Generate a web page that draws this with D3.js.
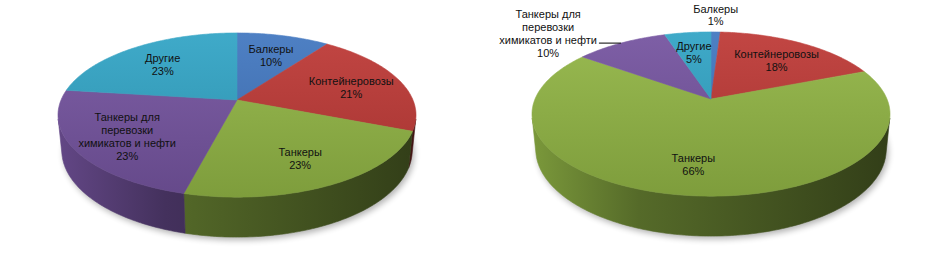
<!DOCTYPE html>
<html>
<head>
<meta charset="utf-8">
<script src="https://cdn.jsdelivr.net/npm/d3@7.9.0/dist/d3.min.js"></script>
<style>
  body { margin: 0; background: #fff; }
  svg { display: block; font-family: "Liberation Sans", Arial, sans-serif; }
</style>
</head>
<body>
<svg width="945" height="277"></svg>
<script>
const categories = ["Балкеры", "Контейнеровозы", "Танкеры", "Танкеры для перевозки химикатов и нефти", "Другие"];
const leftValues = [10, 21, 23, 23, 23];
const rightValues = [1, 18, 66, 10, 5];
const rightOutside = ["Балкеры", "Танкеры для перевозки химикатов и нефти"];
const colors = ["#4378c0", "#be3a37", "#92b646", "#7655a0", "#33a5c6"];

const svg = d3.select("svg");
const defs = svg.append("defs");

defs.append("filter").attr("id", "blur")
  .attr("x", "-10%").attr("y", "-10%").attr("width", "120%").attr("height", "130%")
  .append("feGaussianBlur").attr("stdDeviation", 3);

// simple perspective camera looking down on the disc
const tilt = 26.8 * Math.PI / 180, dist = 4.87, focal = 857, depth = 0.226;
function project(cx, cy, a, r, h) {
  const X = r * Math.sin(a), Z = r * Math.cos(a), Y = h;
  const yc = Y * Math.cos(tilt) + Z * Math.sin(tilt);
  const zc = Z * Math.cos(tilt) - Y * Math.sin(tilt) + dist;
  return [cx + focal * X / zc, cy - focal * yc / zc];
}
const visA = Math.acos(-1 / (dist * Math.cos(tilt)));
const visB = 2 * Math.PI - visA;

function rim(cx, cy, a0, a1, h) {
  const n = Math.max(2, Math.ceil((a1 - a0) / 0.015));
  return d3.range(n + 1).map(i => project(cx, cy, a0 + (a1 - a0) * i / n, 1, h));
}

function wrap(name) {
  const words = name.split(" ");
  const lines = [];
  let cur = "";
  words.forEach(w => {
    if (cur && (cur + " " + w).length > 18) { lines.push(cur); cur = w; }
    else cur = cur ? cur + " " + w : w;
  });
  lines.push(cur);
  return lines;
}

const line = d3.line();

function drawPie(id, cx, cy, values, outside) {
  const arcs = d3.pie().sort(null).value(d => d)(values);
  const g = svg.append("g");
  const yBack = project(cx, cy, 0, 1, 0)[1];
  const yFront = project(cx, cy, Math.PI, 1, 0)[1];

  colors.forEach((c, i) => {
    const top = defs.append("linearGradient").attr("id", `${id}-top-${i}`)
      .attr("gradientUnits", "userSpaceOnUse")
      .attr("x1", 0).attr("x2", 0).attr("y1", yBack).attr("y2", yFront);
    top.append("stop").attr("offset", 0).attr("stop-color", d3.interpolateRgb(c, "#fff")(0.06));
    top.append("stop").attr("offset", 1).attr("stop-color", d3.interpolateRgb(c, "#000")(0.14));

    const side = defs.append("linearGradient").attr("id", `${id}-side-${i}`)
      .attr("gradientUnits", "userSpaceOnUse")
      .attr("x1", cx - 180).attr("x2", cx + 180).attr("y1", 0).attr("y2", 0);
    side.append("stop").attr("offset", 0).attr("stop-color", d3.interpolateRgb(c, "#000")(0.16));
    side.append("stop").attr("offset", 0.3).attr("stop-color", d3.interpolateRgb(c, "#000")(0.42));
    side.append("stop").attr("offset", 1).attr("stop-color", d3.interpolateRgb(c, "#000")(0.66));
  });

  // soft shadow under the disc
  g.append("path")
    .attr("d", line(rim(cx, cy, 0, 2 * Math.PI, -depth)) + "Z")
    .attr("transform", "translate(2,3)")
    .attr("fill", "#000").attr("opacity", 0.3)
    .attr("filter", "url(#blur)");

  // outer walls, only the part facing the viewer
  arcs.forEach((d, i) => {
    const a0 = Math.max(d.startAngle, visA), a1 = Math.min(d.endAngle, visB);
    if (a1 <= a0) return;
    const pts = rim(cx, cy, a0, a1, 0).concat(rim(cx, cy, a0, a1, -depth).reverse());
    g.append("path")
      .attr("d", line(pts) + "Z")
      .attr("fill", `url(#${id}-side-${i})`)
      .attr("stroke", `url(#${id}-side-${i})`).attr("stroke-width", 0.6);
  });

  // top faces
  arcs.forEach((d, i) => {
    const pts = [[cx, cy]].concat(rim(cx, cy, d.startAngle, d.endAngle, 0));
    g.append("path")
      .attr("d", line(pts) + "Z")
      .attr("fill", `url(#${id}-top-${i})`)
      .attr("stroke", `url(#${id}-top-${i})`).attr("stroke-width", 0.6);
  });

  // labels
  const lh = 13;
  arcs.forEach((d, i) => {
    const mid = (d.startAngle + d.endAngle) / 2;
    const lines = wrap(categories[i]).concat([Math.round(d.value) + "%"]);
    const t = g.append("text").attr("font-size", 11).attr("fill", "#111").attr("text-anchor", "middle");
    const isOut = outside.includes(categories[i]);
    const above = isOut && Math.abs(Math.sin(mid)) < 0.3;
    let x, y0;
    if (!isOut) {
      const p = project(cx, cy, mid, 0.7, 0);
      x = p[0];
      y0 = p[1] + 2.5 - (lines.length - 1) * lh / 2 + 4;
    } else {
      const p = project(cx, cy, mid, 1, 0);
      if (above) {
        x = p[0];
        y0 = p[1] - 7 - (lines.length - 1) * 12;
      } else {
        const side = Math.sin(mid) < 0 ? -1 : 1;
        const end = [p[0] + side * 22, p[1]];
        g.append("path").attr("d", line([p, end]))
          .attr("stroke", "#000").attr("stroke-width", 1).attr("fill", "none");
        x = end[0];
        y0 = p[1] + 1 - (lines.length - 2) * lh;
      }
    }
    const spans = lines.map((s, k) => t.append("tspan")
      .attr("x", x).attr("y", y0 + k * (above ? 12 : lh)).text(s));
    if (isOut && !above) {
      const w = d3.max(spans, s => s.node().getComputedTextLength());
      const side = Math.sin(mid) < 0 ? -1 : 1;
      spans.forEach(s => s.attr("x", x + side * (2 + w / 2)));
    }
  });
}

drawPie("l", 237, 100, leftValues, []);
drawPie("r", 711, 99, rightValues, rightOutside);
</script>
</body>
</html>
